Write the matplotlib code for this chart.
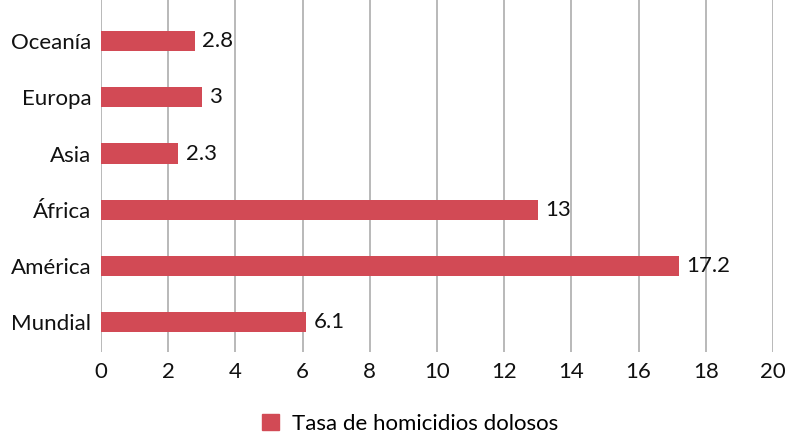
import matplotlib.pyplot as plt
from matplotlib.patches import Patch

REGIONS = ["Mundial", "América", "África", "Asia", "Europa", "Oceanía"]
RATES = [6.1, 17.2, 13, 2.3, 3, 2.8]
RATE_LABELS = ["6.1", "17.2", "13", "2.3", "3", "2.8"]
XTICKS = [0, 2, 4, 6, 8, 10, 12, 14, 16, 18, 20]
SERIES_NAME = "Tasa de homicidios dolosos"

BAR_COLOR = "#d24a55"
GRID_COLOR = "#b3b3b3"
FS = 16

plt.rcParams["font.family"] = ["Lato", "DejaVu Sans"]

fig = plt.figure(figsize=(7.88, 4.33), dpi=100)
ax = fig.add_axes([101 / 788, 1 - 352 / 433, (773 - 101) / 788, 352 / 433])

y = list(range(len(REGIONS)))
ax.barh(y, RATES, height=0.36, color=BAR_COLOR, zorder=3)
for yi, v, lab in zip(y, RATES, RATE_LABELS):
    ax.text(v + 0.22, yi, lab, va="center", ha="left", fontsize=FS, color="#111111")

ax.set_xlim(0, 20)
ax.set_ylim(-0.53, 5 + 41 / 56)
ax.set_xticks(XTICKS)
ax.set_yticks(y)
ax.set_yticklabels(REGIONS)
ax.tick_params(axis="x", length=0, labelsize=FS, pad=7, colors="#111111")
ax.tick_params(axis="y", length=0, labelsize=FS, pad=7, colors="#111111")
ax.grid(axis="x", color=GRID_COLOR, linewidth=1.3, zorder=0)
for s in ax.spines.values():
    s.set_visible(False)

fig.legend(
    handles=[Patch(color=BAR_COLOR, label=SERIES_NAME)],
    loc="center",
    bbox_to_anchor=(410 / 788, 1 - 424 / 433),
    frameon=False,
    fontsize=FS,
    handlelength=0.75,
    handleheight=0.75,
    handletextpad=0.6,
)

fig.savefig("out.png", dpi=100)
